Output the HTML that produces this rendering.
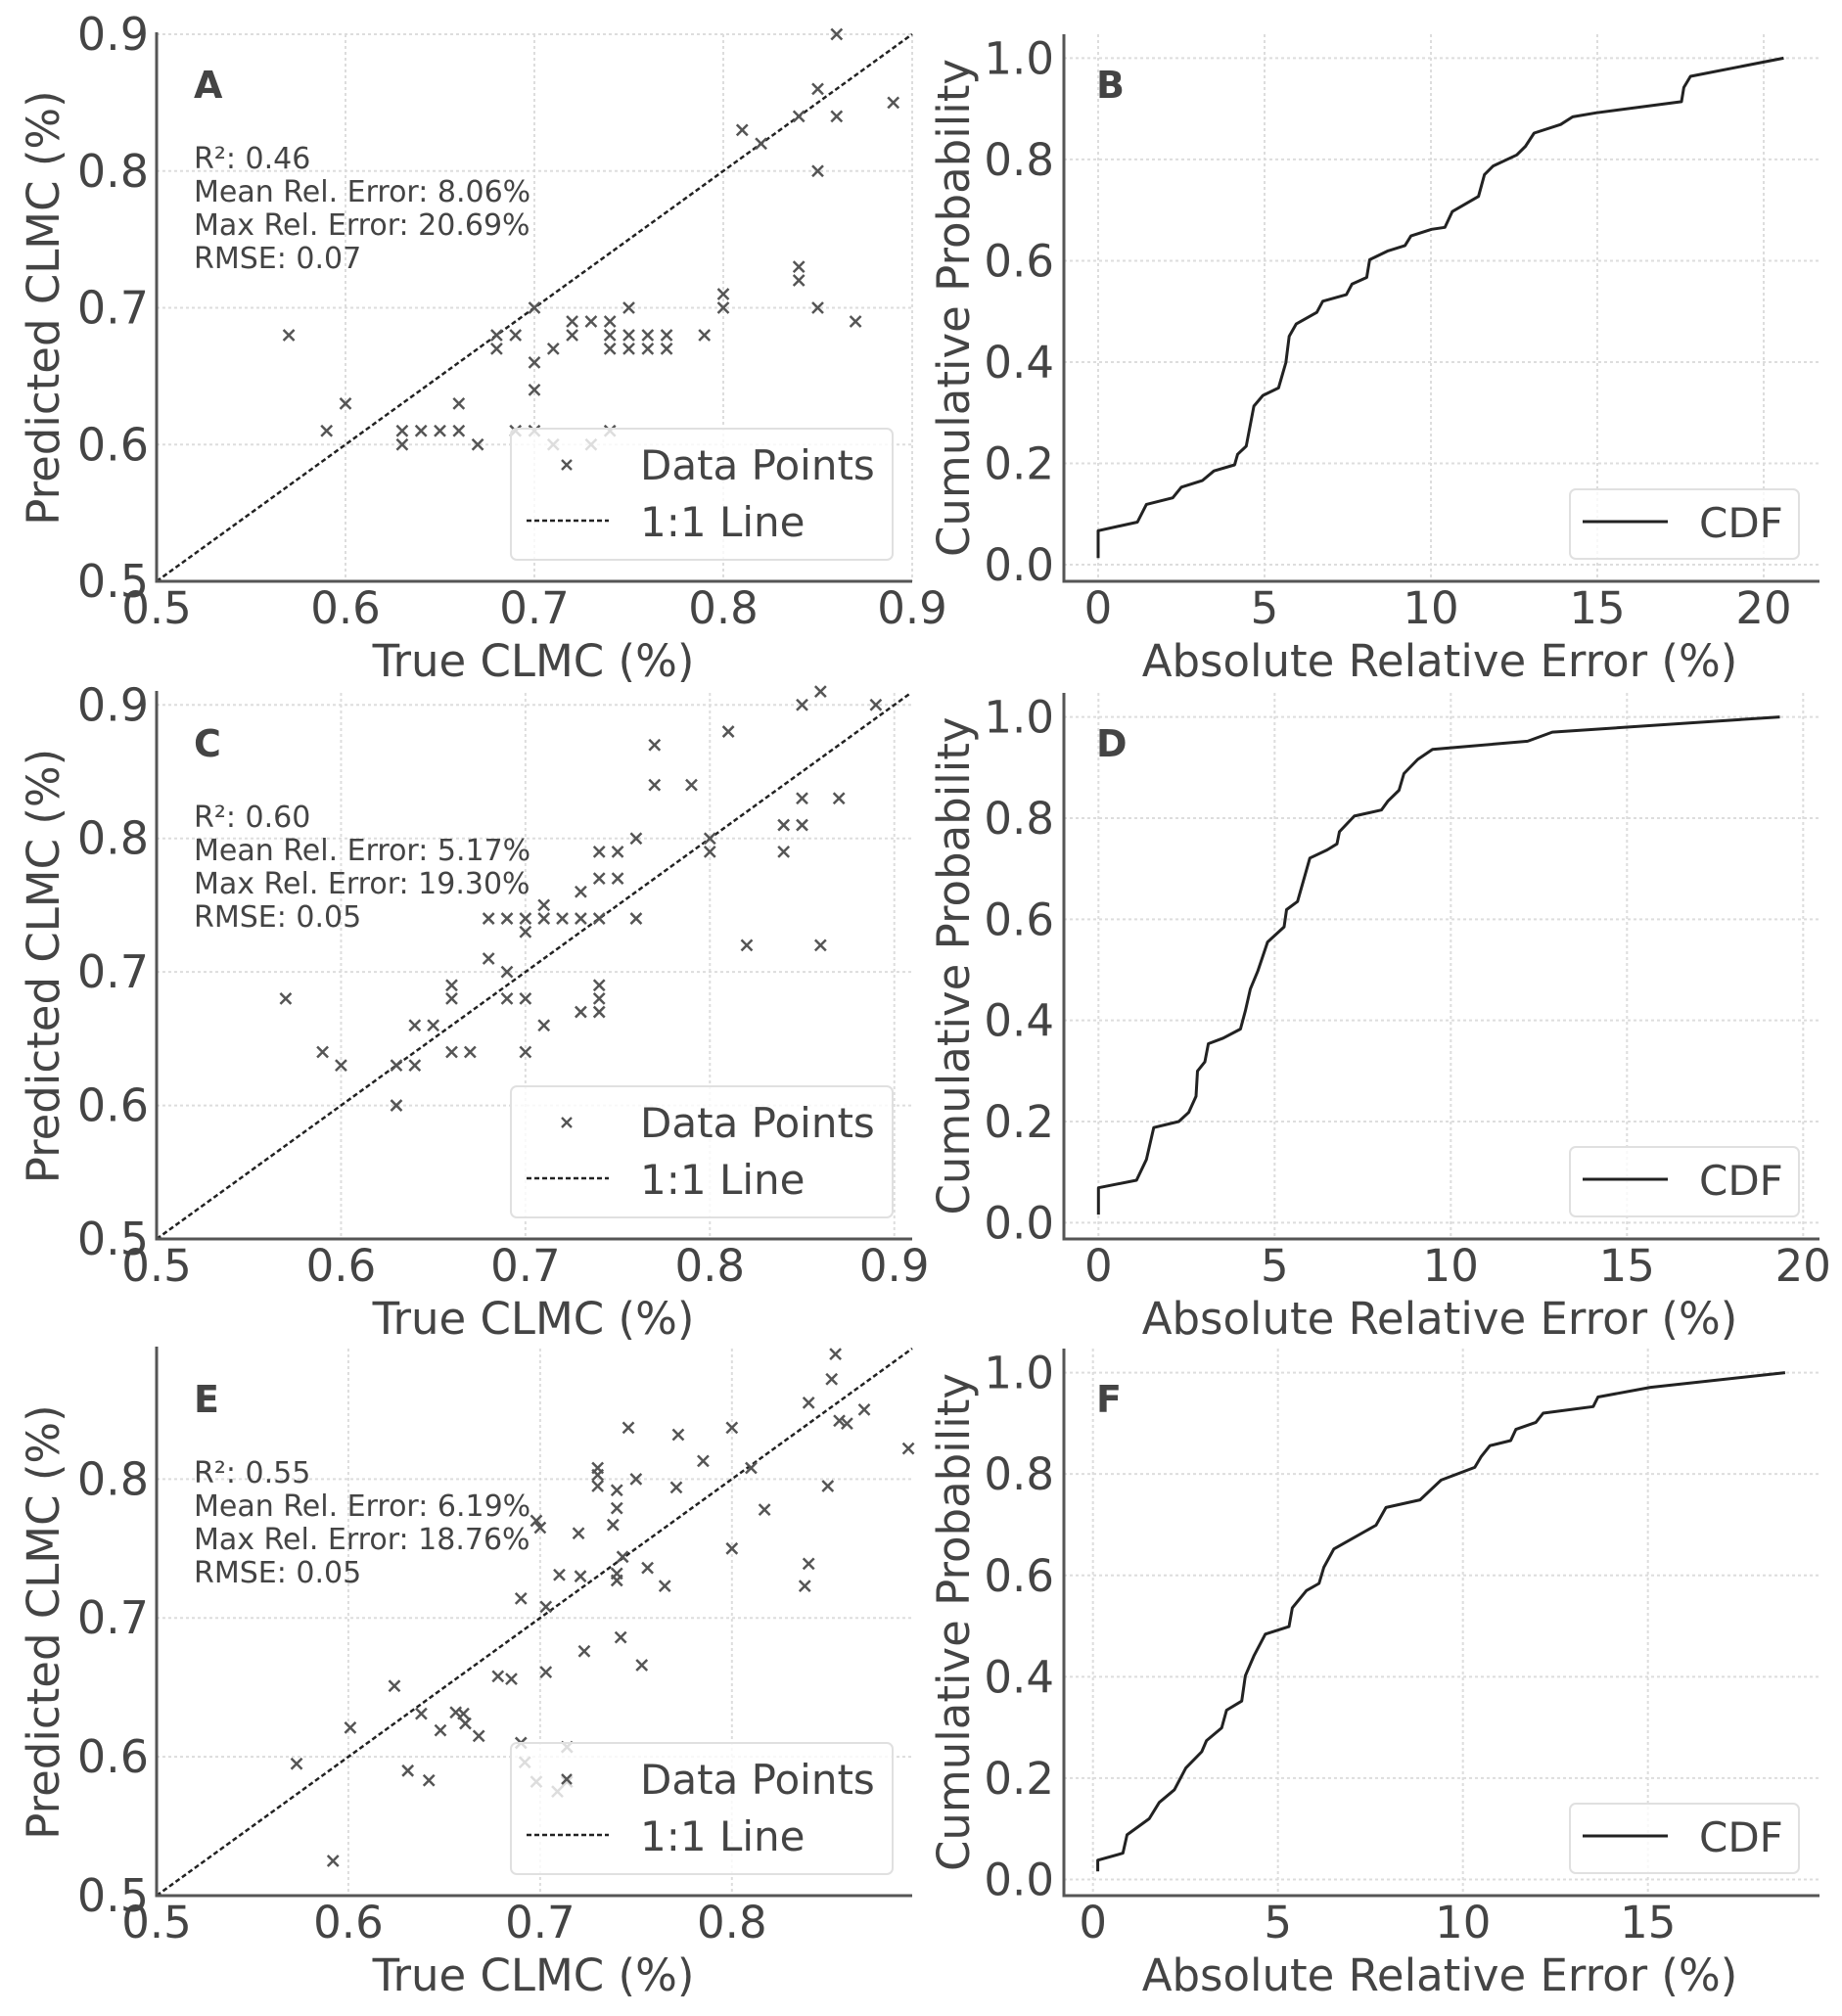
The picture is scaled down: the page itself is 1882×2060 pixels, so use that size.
<!DOCTYPE html>
<html><head><meta charset="utf-8"><style>
html,body{margin:0;padding:0;background:#fff}
svg{display:block}
text{font-family:"DejaVu Sans","Liberation Sans",sans-serif;fill:#444}
</style></head><body>
<svg id="fig" width="1882" height="2060" viewBox="0 0 1882 2060" xmlns="http://www.w3.org/2000/svg"></svg>
<script>
// ---- Panel A data ----
const aTrue = [0.57,0.59,0.60,0.63,0.63,0.64,0.65,0.66,0.66,0.67,0.68,0.68,0.69,0.69,0.70,0.70,0.70,0.70,0.71,0.71,0.73,0.72,0.72,0.73,0.74,0.74,0.74,0.74,0.75,0.75,0.75,0.76,0.76,0.77,0.77,0.79,0.80,0.80,0.81,0.82,0.84,0.84,0.84,0.85,0.85,0.85,0.86,0.86,0.87,0.89];
const aPred = [0.68,0.61,0.63,0.61,0.60,0.61,0.61,0.61,0.63,0.60,0.68,0.67,0.68,0.61,0.61,0.70,0.66,0.64,0.67,0.60,0.60,0.69,0.68,0.69,0.69,0.68,0.67,0.61,0.70,0.68,0.67,0.68,0.67,0.68,0.67,0.68,0.71,0.70,0.83,0.82,0.84,0.73,0.72,0.86,0.80,0.70,0.90,0.84,0.69,0.85];
// ---- Panel C data ----
const cTrue = [0.57,0.59,0.60,0.63,0.63,0.64,0.64,0.65,0.66,0.66,0.66,0.67,0.68,0.68,0.69,0.69,0.69,0.70,0.70,0.70,0.70,0.71,0.71,0.71,0.72,0.73,0.73,0.73,0.74,0.74,0.74,0.74,0.74,0.74,0.75,0.75,0.76,0.76,0.77,0.77,0.79,0.80,0.80,0.81,0.82,0.84,0.84,0.85,0.85,0.85,0.86,0.86,0.87,0.89];
const cPred = [0.68,0.64,0.63,0.63,0.60,0.63,0.66,0.66,0.69,0.68,0.64,0.64,0.71,0.74,0.74,0.70,0.68,0.74,0.73,0.68,0.64,0.75,0.74,0.66,0.74,0.76,0.74,0.67,0.79,0.77,0.74,0.69,0.68,0.67,0.79,0.77,0.80,0.74,0.87,0.84,0.84,0.80,0.79,0.88,0.72,0.81,0.79,0.90,0.83,0.81,0.91,0.72,0.83,0.90];
// ---- Panel E data ----
const eTrue = [0.573,0.592,0.601,0.624,0.631,0.638,0.642,0.648,0.656,0.660,0.661,0.668,0.678,0.685,0.690,0.690,0.692,0.698,0.698,0.700,0.703,0.703,0.709,0.710,0.714,0.714,0.720,0.721,0.723,0.730,0.730,0.730,0.738,0.740,0.740,0.740,0.740,0.743,0.742,0.746,0.750,0.753,0.756,0.765,0.771,0.772,0.785,0.800,0.800,0.810,0.817,0.838,0.840,0.840,0.850,0.852,0.854,0.856,0.860,0.869,0.892];
const ePred = [0.595,0.525,0.621,0.651,0.590,0.631,0.583,0.619,0.632,0.631,0.624,0.615,0.658,0.656,0.714,0.610,0.596,0.582,0.770,0.765,0.661,0.708,0.575,0.731,0.607,0.582,0.761,0.730,0.676,0.808,0.803,0.795,0.767,0.792,0.779,0.732,0.727,0.744,0.686,0.837,0.800,0.666,0.736,0.723,0.794,0.832,0.813,0.837,0.750,0.808,0.778,0.723,0.739,0.855,0.795,0.872,0.890,0.842,0.840,0.850,0.822];
// ---- CDF data ----
const bErr = [0,0,1.18,1.45,2.24,2.5,3.13,3.48,4.1,4.19,4.45,4.68,4.95,5.42,5.64,5.74,5.95,6.57,6.75,7.46,7.63,8.07,8.16,8.69,9.22,9.4,10.02,10.42,10.64,11.43,11.61,11.87,12.58,12.84,13.1,13.9,14.26,14.96,17.53,17.6,17.8,20.6];
const bProb = [0.013,0.067,0.084,0.119,0.132,0.153,0.166,0.185,0.197,0.218,0.234,0.313,0.334,0.349,0.399,0.451,0.475,0.498,0.52,0.533,0.554,0.567,0.602,0.619,0.630,0.649,0.662,0.666,0.697,0.727,0.77,0.787,0.809,0.826,0.852,0.869,0.884,0.892,0.914,0.942,0.964,1.0];
const dErr = [0,0,1.08,1.36,1.57,2.28,2.56,2.77,2.81,3.02,3.12,3.54,4.03,4.17,4.31,4.52,4.8,5.27,5.34,5.65,6.0,6.49,6.77,6.84,7.26,8.03,8.22,8.53,8.67,9.06,9.48,12.18,12.88,19.34];
const dProb = [0.016,0.069,0.084,0.125,0.188,0.2,0.218,0.25,0.3,0.318,0.354,0.365,0.383,0.419,0.462,0.497,0.555,0.585,0.619,0.635,0.721,0.737,0.749,0.773,0.804,0.816,0.834,0.855,0.888,0.916,0.936,0.952,0.97,1.0];
const fErr = [0.13,0.13,0.81,0.92,1.52,1.79,2.2,2.51,2.94,3.07,3.48,3.61,4.02,4.12,4.35,4.66,5.3,5.39,5.77,6.11,6.24,6.51,7.65,7.92,8.84,9.41,10.32,10.49,10.73,11.29,11.43,11.97,12.17,13.52,13.65,15.07,18.71];
const fProb = [0.016,0.038,0.052,0.088,0.12,0.152,0.177,0.22,0.252,0.274,0.299,0.334,0.352,0.402,0.441,0.484,0.499,0.536,0.57,0.584,0.616,0.652,0.699,0.734,0.749,0.788,0.813,0.834,0.856,0.866,0.888,0.902,0.92,0.933,0.952,0.971,1.0];
const scatterTicks = [0.5,0.6,0.7,0.8,0.9];
const scatterTickLabels = ["0.5","0.6","0.7","0.8","0.9"];
const cdfYTicks = [0,0.2,0.4,0.6,0.8,1.0];
const cdfYTickLabels = ["0.0","0.2","0.4","0.6","0.8","1.0"];
const stats = {
  A:["R²: 0.46","Mean Rel. Error: 8.06%","Max Rel. Error: 20.69%","RMSE: 0.07"],
  C:["R²: 0.60","Mean Rel. Error: 5.17%","Max Rel. Error: 19.30%","RMSE: 0.05"],
  E:["R²: 0.55","Mean Rel. Error: 6.19%","Max Rel. Error: 18.76%","RMSE: 0.05"]
};

const NS="http://www.w3.org/2000/svg";
const svg=document.getElementById('fig');
function mk(tag,attrs,parent){const e=document.createElementNS(NS,tag);for(const k in attrs)e.setAttribute(k,attrs[k]);(parent||svg).appendChild(e);return e;}
function txt(s,attrs,parent){const e=mk('text',attrs,parent);e.textContent=s;return e;}

function scatterPanel(letter,L,R,T,B,xmax,ymax,xs,ys,xticksN,yticksN){
  const g=mk('g',{});
  
  
  const sx=v=>L+(v-0.5)/(xmax-0.5)*(R-L);
  const sy=v=>B-(v-0.5)/(ymax-0.5)*(B-T);
  for(let i=0;i<xticksN;i++){
    const x=sx(scatterTicks[i]);
    const gl=mk('line',{x1:x,x2:x,y1:T,y2:B,stroke:'#ddd','stroke-width':2,'stroke-dasharray':'3,3'},g);
    
    
    const t=txt(scatterTickLabels[i],{x:x,y:B+43,'text-anchor':'middle','font-size':45},g);
    
    
  }
  for(let i=0;i<yticksN;i++){
    const y=sy(scatterTicks[i]);
    const gl=mk('line',{x1:L,x2:R,y1:y,y2:y,stroke:'#ddd','stroke-width':2,'stroke-dasharray':'3,3'},g);
    
    
    const t=txt(scatterTickLabels[i],{x:L-8,y:y+16,'text-anchor':'end','font-size':46},g);
    
    
  }
  const lim=Math.min(xmax,ymax);
  const dl=mk('line',{x1:sx(0.5),y1:sy(0.5),x2:sx(lim),y2:sy(lim),stroke:'#222','stroke-width':2.5,'stroke-dasharray':'5,3'},g);
  
  
  for(let i=0;i<xs.length;i++){
    const x=sx(xs[i]),y=sy(ys[i]),r=5.5;
    const p=mk('path',{d:`M${x-r},${y-r}L${x+r},${y+r}M${x-r},${y+r}L${x+r},${y-r}`,stroke:'#555','stroke-width':2.5,fill:'none'},g);
    
    
  }
  const sp=mk('path',{d:`M${L},${T-2}L${L},${B}L${R},${B}`,stroke:'#555','stroke-width':3,fill:'none'},g);
  
  
  const pl=txt(letter,{x:L+38,y:T+65,'font-size':38,'font-weight':'bold',fill:'#333'},g);
  
  
  const st=stats[letter];
  for(let i=0;i<st.length;i++){
    const t=txt(st[i],{x:L+38,y:T+137+i*34,'font-size':30,fill:'#555'},g);
    
    
  }
  const xl=txt('True CLMC (%)',{x:545,y:B+97,'text-anchor':'middle','font-size':45},g);
  
  
  const yl=txt('Predicted CLMC (%)',{x:0,y:0,'text-anchor':'middle','font-size':45,transform:`translate(60,${(T+B)/2}) rotate(-90)`},g);
  
  
  const lg=mk('g',{},g);
  
  
  mk('rect',{x:522,y:B-156,width:390,height:134,rx:6,fill:'#fff','fill-opacity':0.8,stroke:'#e0e0e0','stroke-width':2},lg);
  mk('path',{d:`M574,${B-124}L584,${B-114}M574,${B-114}L584,${B-124}`,stroke:'#555','stroke-width':2.4},lg);
  txt('Data Points',{x:654,y:B-104,'font-size':42},lg);
  mk('line',{x1:538,x2:622,y1:B-62,y2:B-62,stroke:'#222','stroke-width':2.5,'stroke-dasharray':'5,3'},lg);
  txt('1:1 Line',{x:654,y:B-46,'font-size':42},lg);
}

function cdfPanel(letter,L,R,T,B,x0,xPerUnit,y0,y1,xticks,xs,ys){
  const g=mk('g',{});
  
  
  const sx=v=>x0+v*xPerUnit;
  const sy=v=>y0-v*(y0-y1);
  for(const v of xticks){
    const x=sx(v);
    const gl=mk('line',{x1:x,x2:x,y1:T,y2:B,stroke:'#ddd','stroke-width':2,'stroke-dasharray':'3,3'},g);
    
    
    const t=txt(String(v),{x:x,y:B+43,'text-anchor':'middle','font-size':45},g);
    
    
  }
  for(let i=0;i<cdfYTicks.length;i++){
    const y=sy(cdfYTicks[i]);
    const gl=mk('line',{x1:L,x2:R,y1:y,y2:y,stroke:'#ddd','stroke-width':2,'stroke-dasharray':'3,3'},g);
    
    
    const t=txt(cdfYTickLabels[i],{x:L-10,y:y+16,'text-anchor':'end','font-size':45},g);
    
    
  }
  let d='';
  for(let i=0;i<xs.length;i++)d+=(i?'L':'M')+sx(xs[i]).toFixed(1)+','+sy(ys[i]).toFixed(1);
  const ln=mk('path',{d:d,stroke:'#222','stroke-width':3,fill:'none','stroke-linejoin':'round'},g);
  
  
  const sp=mk('path',{d:`M${L},${T}L${L},${B}L${R},${B}`,stroke:'#555','stroke-width':3,fill:'none'},g);
  
  
  const pl=txt(letter,{x:L+33,y:T+65,'font-size':38,'font-weight':'bold',fill:'#333'},g);
  
  
  const xl=txt('Absolute Relative Error (%)',{x:1471,y:B+97,'text-anchor':'middle','font-size':45},g);
  
  
  const yl=txt('Cumulative Probability',{x:0,y:0,'text-anchor':'middle','font-size':45,transform:`translate(990,${(T+B)/2}) rotate(-90)`},g);
  
  
  const lg=mk('g',{},g);
  
  
  mk('rect',{x:1604,y:B-94,width:234,height:71,rx:6,fill:'#fff','fill-opacity':0.8,stroke:'#e0e0e0','stroke-width':2},lg);
  mk('line',{x1:1617,x2:1704,y1:B-61,y2:B-61,stroke:'#222','stroke-width':3},lg);
  txt('CDF',{x:1736,y:B-45,'font-size':42},lg);
}

scatterPanel('A',160,932,35,594,0.9,0.9,aTrue,aPred,5,5);
scatterPanel('C',160,932,708,1266,0.9097,0.909,cTrue,cPred,5,5);
scatterPanel('E',160,932,1378,1937,0.894,0.894,eTrue,ePred,4,4);
cdfPanel('B',1087,1859,35,594,1122,34,577,59.4,[0,5,10,15,20],bErr,bProb);
cdfPanel('D',1087,1859,708,1266,1122.3,36,1249.4,732.6,[0,5,10,15,20],dErr,dProb);
cdfPanel('F',1087,1859,1378,1937,1116.7,37.8,1920.5,1402.6,[0,5,10,15],fErr,fProb);
</script>
</body></html>
